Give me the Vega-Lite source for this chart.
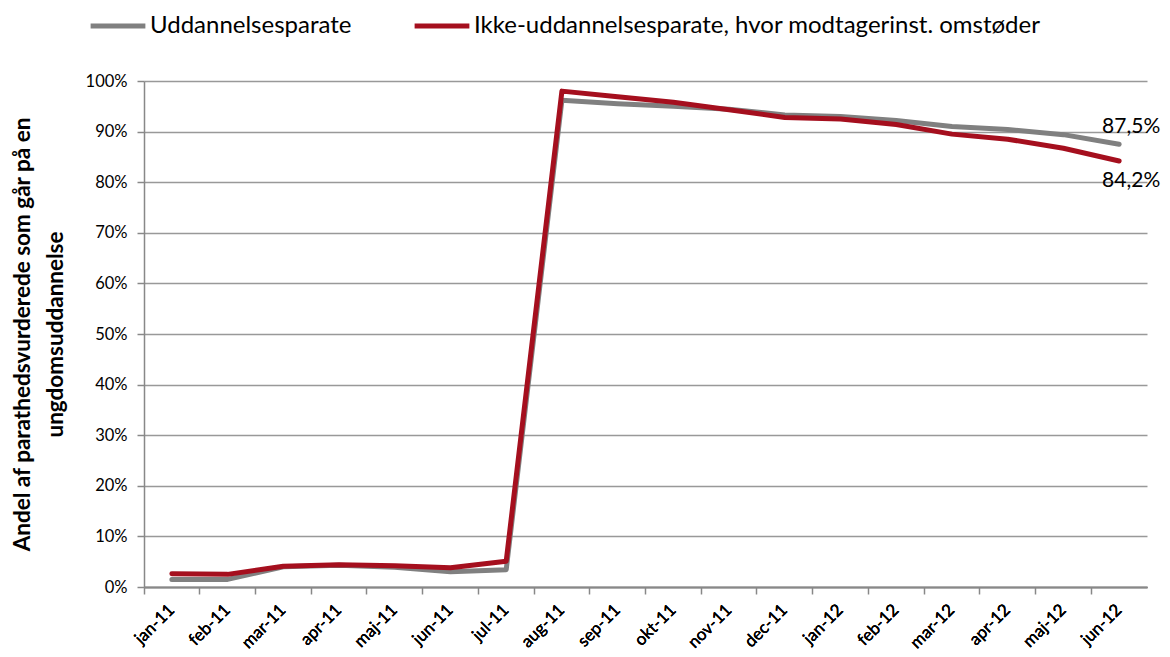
{
  "$schema": "https://vega.github.io/schema/vega-lite/v6.json",
  "width": 1003,
  "height": 506,
  "autosize": {"type": "none"},
  "padding": {"left": 144, "top": 81, "right": 23, "bottom": 70},
  "background": "white",
  "config": {
    "font": "Lato",
    "view": {"stroke": null},
    "axis": {"labelFont": "Lato", "titleFont": "Lato"}
  },
  "data": {
    "values": [
      {"m": "jan-11", "s": "Uddannelsesparate", "v": 1.5},
      {"m": "feb-11", "s": "Uddannelsesparate", "v": 1.5},
      {"m": "mar-11", "s": "Uddannelsesparate", "v": 4.0},
      {"m": "apr-11", "s": "Uddannelsesparate", "v": 4.3},
      {"m": "maj-11", "s": "Uddannelsesparate", "v": 3.9},
      {"m": "jun-11", "s": "Uddannelsesparate", "v": 3.0},
      {"m": "jul-11", "s": "Uddannelsesparate", "v": 3.4},
      {"m": "aug-11", "s": "Uddannelsesparate", "v": 96.2},
      {"m": "sep-11", "s": "Uddannelsesparate", "v": 95.5},
      {"m": "okt-11", "s": "Uddannelsesparate", "v": 95.0},
      {"m": "nov-11", "s": "Uddannelsesparate", "v": 94.4},
      {"m": "dec-11", "s": "Uddannelsesparate", "v": 93.3},
      {"m": "jan-12", "s": "Uddannelsesparate", "v": 93.0},
      {"m": "feb-12", "s": "Uddannelsesparate", "v": 92.2},
      {"m": "mar-12", "s": "Uddannelsesparate", "v": 91.0},
      {"m": "apr-12", "s": "Uddannelsesparate", "v": 90.4},
      {"m": "maj-12", "s": "Uddannelsesparate", "v": 89.4},
      {"m": "jun-12", "s": "Uddannelsesparate", "v": 87.5, "label": "87,5%"},
      {"m": "jan-11", "s": "Ikke-uddannelsesparate, hvor modtagerinst. omstøder", "v": 2.6},
      {"m": "feb-11", "s": "Ikke-uddannelsesparate, hvor modtagerinst. omstøder", "v": 2.5},
      {"m": "mar-11", "s": "Ikke-uddannelsesparate, hvor modtagerinst. omstøder", "v": 4.1},
      {"m": "apr-11", "s": "Ikke-uddannelsesparate, hvor modtagerinst. omstøder", "v": 4.4},
      {"m": "maj-11", "s": "Ikke-uddannelsesparate, hvor modtagerinst. omstøder", "v": 4.2},
      {"m": "jun-11", "s": "Ikke-uddannelsesparate, hvor modtagerinst. omstøder", "v": 3.8},
      {"m": "jul-11", "s": "Ikke-uddannelsesparate, hvor modtagerinst. omstøder", "v": 5.1},
      {"m": "aug-11", "s": "Ikke-uddannelsesparate, hvor modtagerinst. omstøder", "v": 98.0},
      {"m": "sep-11", "s": "Ikke-uddannelsesparate, hvor modtagerinst. omstøder", "v": 96.9},
      {"m": "okt-11", "s": "Ikke-uddannelsesparate, hvor modtagerinst. omstøder", "v": 95.8},
      {"m": "nov-11", "s": "Ikke-uddannelsesparate, hvor modtagerinst. omstøder", "v": 94.3},
      {"m": "dec-11", "s": "Ikke-uddannelsesparate, hvor modtagerinst. omstøder", "v": 92.8},
      {"m": "jan-12", "s": "Ikke-uddannelsesparate, hvor modtagerinst. omstøder", "v": 92.5},
      {"m": "feb-12", "s": "Ikke-uddannelsesparate, hvor modtagerinst. omstøder", "v": 91.4},
      {"m": "mar-12", "s": "Ikke-uddannelsesparate, hvor modtagerinst. omstøder", "v": 89.5},
      {"m": "apr-12", "s": "Ikke-uddannelsesparate, hvor modtagerinst. omstøder", "v": 88.5},
      {"m": "maj-12", "s": "Ikke-uddannelsesparate, hvor modtagerinst. omstøder", "v": 86.7},
      {"m": "jun-12", "s": "Ikke-uddannelsesparate, hvor modtagerinst. omstøder", "v": 84.2, "label": "84,2%"}
    ]
  },
  "encoding": {
    "x": {
      "field": "m",
      "type": "ordinal",
      "sort": null,
      "bandPosition": 0.5,
      "scale": {"type": "band", "paddingInner": 0, "paddingOuter": 0},
      "axis": {
        "orient": "bottom",
        "title": null,
        "labelAngle": -45,
        "labelAlign": "right",
        "labelBaseline": "middle",
        "labelFontSize": 17,
        "labelFontWeight": "normal",
        "labelColor": "#000",
        "labelPadding": 20,
        "labelOverlap": false,
        "ticks": false,
        "domainColor": "#888",
        "domainWidth": 1.5,
        "grid": false
      }
    },
    "y": {
      "field": "v",
      "type": "quantitative",
      "scale": {"domain": [0, 100], "nice": false},
      "axis": {
        "title": ["Andel af parathedsvurderede som går på en", "ungdomsuddannelse"],
        "titleFontSize": 22.5,
        "titleFontWeight": "bold",
        "titleColor": "#000",
        "titlePadding": 18,
        "titleLineHeight": 33,
        "values": [0, 10, 20, 30, 40, 50, 60, 70, 80, 90, 100],
        "labelExpr": "datum.value + '%'",
        "labelFontSize": 16.5,
        "labelColor": "#000",
        "labelPadding": 10,
        "tickSize": 7,
        "tickColor": "#888",
        "tickWidth": 1.5,
        "domainColor": "#888",
        "domainWidth": 1.5,
        "grid": true,
        "gridColor": "#999",
        "gridWidth": 1.5
      }
    }
  },
  "layer": [
    {
      "mark": {"type": "line", "strokeWidth": 5, "strokeCap": "round", "strokeJoin": "round"},
      "encoding": {
        "color": {
          "field": "s",
          "type": "nominal",
          "sort": null,
          "scale": {
            "domain": ["Uddannelsesparate", "Ikke-uddannelsesparate, hvor modtagerinst. omstøder"],
            "range": ["#808080", "#A50F1E"]
          },
          "legend": {
            "title": null,
            "orient": "none",
            "direction": "horizontal",
            "legendX": -56,
            "legendY": -85,
            "symbolType": "stroke",
            "symbolSize": 3000,
            "symbolStrokeWidth": 5,
            "labelFontSize": 24,
            "labelColor": "#000",
            "labelOffset": 2,
            "labelLimit": 800,
            "columnPadding": 52
          }
        }
      }
    },
    {
      "mark": {"type": "tick", "opacity": 0},
      "encoding": {
        "x": {
          "field": "m",
          "type": "ordinal",
          "sort": null,
          "axis": {
            "orient": "bottom",
            "title": null,
            "labels": false,
            "domain": false,
            "grid": false,
            "ticks": true,
            "tickSize": 7,
            "tickColor": "#888",
            "tickWidth": 1.5,
            "bandPosition": 0
          }
        }
      }
    },
    {
      "transform": [{"filter": "datum.label != null && datum.v > 86"}],
      "mark": {"type": "text", "fontSize": 21, "align": "center", "color": "#000", "dx": 12, "dy": -17},
      "encoding": {"text": {"field": "label"}}
    },
    {
      "transform": [{"filter": "datum.label != null && datum.v < 86"}],
      "mark": {"type": "text", "fontSize": 21, "align": "center", "color": "#000", "dx": 12, "dy": 20},
      "encoding": {"text": {"field": "label"}}
    }
  ],
  "resolve": {"axis": {"x": "independent"}}
}
